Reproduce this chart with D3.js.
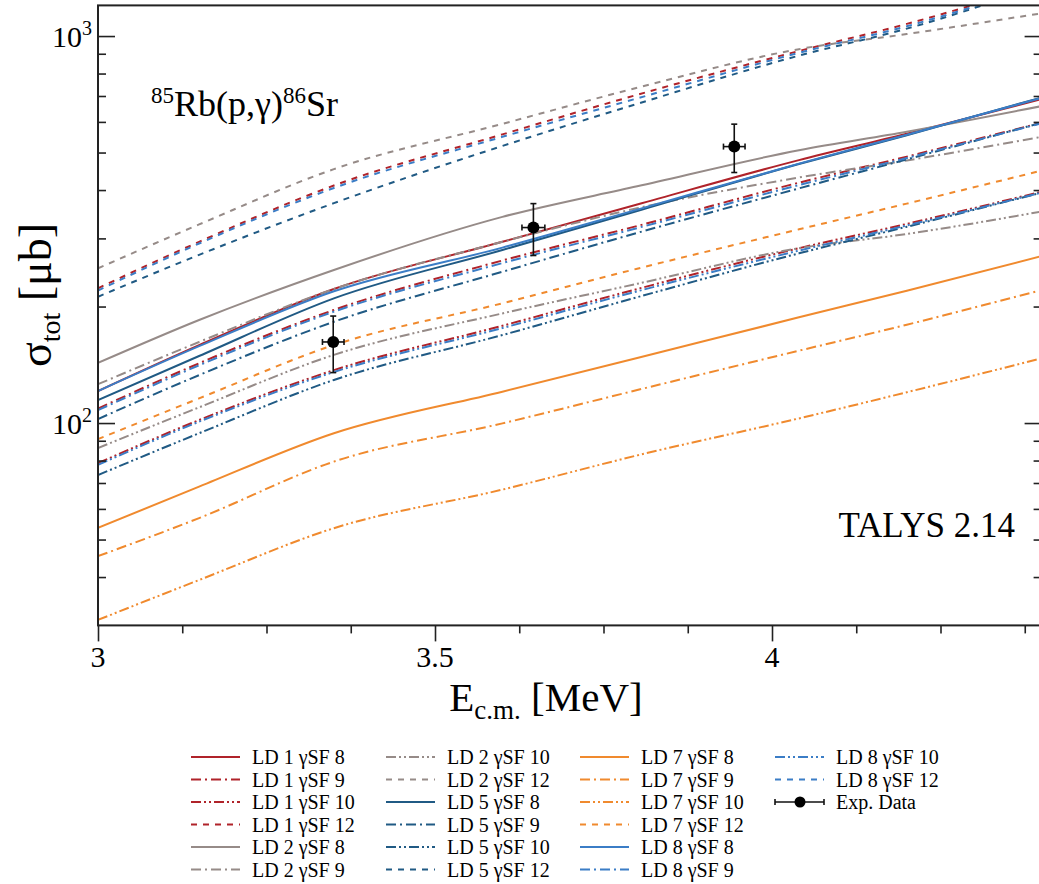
<!DOCTYPE html>
<html>
<head>
<meta charset="UTF-8">
<title>85Rb(p,g)86Sr TALYS</title>
<style>
  body { margin: 0; background: #fff; }
</style>
</head>
<body>
<script src="https://cdn.jsdelivr.net/npm/d3@7"></script>
<script>
const width = 1039,
  height = 884

// centre-of-mass energies (MeV) where curves were read
const energies = [3.0, 3.15, 3.35, 3.6, 3.8, 4.04, 4.2, 4.4]

// cross sections in microbarn, one array per LD / gSF combination
const ld1_sf8 = [121, 159, 222, 294, 367, 478, 559, 687]
const ld1_sf9 = [109, 142.7, 196, 263, 323, 418, 488, 597]
const ld1_sf10 = [78.8, 101.8, 137, 178.4, 222, 283, 327, 396]
const ld1_sf12 = [223, 294, 411, 557, 705, 915, 1075, 1360]

const ld2_sf8 = [143, 184.6, 248.6, 341, 409, 507, 566, 659]
const ld2_sf9 = [126, 162, 222, 294, 359, 431, 477, 549]
const ld2_sf10 = [86.2, 109.8, 150, 192, 229, 283, 308, 352]
const ld2_sf12 = [251, 326, 453, 593, 735, 925, 1012, 1145]

const ld5_sf8 = [114.7, 149, 210, 280, 353, 467, 554, 694]
const ld5_sf9 = [102.4, 133, 182.7, 246, 310, 404, 480, 597]
const ld5_sf10 = [73.4, 94.1, 129.2, 168.8, 211.4, 274.5, 321.5, 394]
const ld5_sf12 = [212, 272, 370, 520, 668, 890, 1045, 1350]

const ld7_sf8 = [53.6, 68.5, 94.1, 120.5, 147.2, 187.6, 219.8, 270]
const ld7_sf9 = [45.3, 56.8, 79.5, 99.8, 121.7, 153.8, 179.5, 220.7]
const ld7_sf10 = [31.0, 39.3, 53.5, 67.3, 82.5, 102.8, 120.1, 147]
const ld7_sf12 = [90.9, 115.8, 159.1, 203.9, 250.5, 316.6, 369, 449]

const ld8_sf8 = [121, 158, 219, 284, 356, 468, 556, 692]
const ld8_sf9 = [108, 141, 194, 259, 319, 412, 484, 595]
const ld8_sf10 = [78, 100.8, 135.5, 176, 219, 279, 324, 394]
const ld8_sf12 = [220, 291, 405, 549, 690, 905, 1060, 1355]

// experimental points
const expE = [3.349, 3.646, 3.944]
const expEErr = [0.016, 0.017, 0.016]
const expSigma = [162, 320, 518]
const expSigmaErr = [27, 49, 74]

const xMajor = [3, 3.5, 4]
const xLabels = ['3', '3.5', '4']

const series = [
  { ld: 1, sf: 8, values: ld1_sf8 }, { ld: 1, sf: 9, values: ld1_sf9 },
  { ld: 1, sf: 10, values: ld1_sf10 }, { ld: 1, sf: 12, values: ld1_sf12 },
  { ld: 2, sf: 8, values: ld2_sf8 }, { ld: 2, sf: 9, values: ld2_sf9 },
  { ld: 2, sf: 10, values: ld2_sf10 }, { ld: 2, sf: 12, values: ld2_sf12 },
  { ld: 5, sf: 8, values: ld5_sf8 }, { ld: 5, sf: 9, values: ld5_sf9 },
  { ld: 5, sf: 10, values: ld5_sf10 }, { ld: 5, sf: 12, values: ld5_sf12 },
  { ld: 7, sf: 8, values: ld7_sf8 }, { ld: 7, sf: 9, values: ld7_sf9 },
  { ld: 7, sf: 10, values: ld7_sf10 }, { ld: 7, sf: 12, values: ld7_sf12 },
  { ld: 8, sf: 8, values: ld8_sf8 }, { ld: 8, sf: 9, values: ld8_sf9 },
  { ld: 8, sf: 10, values: ld8_sf10 }, { ld: 8, sf: 12, values: ld8_sf12 }
]

const ldColor = { 1: '#b0232a', 2: '#968b88', 5: '#205a84', 7: '#f08a2e', 8: '#3b7dc6' }
const sfDash = { 8: null, 9: '10,4,2,4', 10: '10,3,2,3,2,3', 12: '6,6' }

const serif = "'Liberation Serif', 'Times New Roman', Times, 'DejaVu Serif', serif"
const plot = { left: 98, right: 1041.6, top: 5.4, bottom: 625.4 }

const svg = d3.select('body')
  .append('svg')
  .attr('width', width)
  .attr('height', height)
  .attr('font-family', serif)
  .style('font-family', serif)

const x = d3.scaleLinear()
  .domain([3, 4.4])
  .range([plot.left, plot.right])

const y = d3.scaleLog()
  .domain([30, 1200])
  .range([plot.bottom, plot.top])

svg.append('clipPath')
  .attr('id', 'clip')
  .append('rect')
  .attr('x', plot.left)
  .attr('y', plot.top)
  .attr('width', plot.right - plot.left)
  .attr('height', plot.bottom - plot.top)

// curves
const line = d3.line()
  .x((d, i) => x(energies[i]))
  .y(d => y(d))
  .curve(d3.curveMonotoneX)

svg.append('g')
  .attr('clip-path', 'url(#clip)')
  .selectAll('path')
  .data(series)
  .enter()
  .append('path')
  .attr('d', d => line(d.values))
  .attr('fill', 'none')
  .attr('stroke', d => ldColor[d.ld])
  .attr('stroke-width', 2)
  .attr('stroke-dasharray', d => sfDash[d.sf])

// ticks
const yMinor = [40, 50, 60, 70, 80, 90, 200, 300, 400, 500, 600, 700, 800, 900]
const xMinor = d3.range(3, 4.41, 0.125).filter(v => xMajor.indexOf(v) < 0)

const axisColor = '#222'

function ticks(axis, tx, ty) {
  svg.append('g')
    .attr('transform', `translate(${tx},${ty})`)
    .call(axis.tickSizeOuter(0).tickFormat(''))
    .call(g => g.select('.domain').remove())
}
ticks(d3.axisLeft(y).tickValues([100, 1000]).tickSizeInner(-17), plot.left, 0)
ticks(d3.axisLeft(y).tickValues(yMinor).tickSizeInner(-8), plot.left, 0)
ticks(d3.axisRight(y).tickValues([100, 1000]).tickSizeInner(-17), plot.right, 0)
ticks(d3.axisRight(y).tickValues(yMinor).tickSizeInner(-8), plot.right, 0)
ticks(d3.axisBottom(x).tickValues(xMajor).tickSizeInner(16), 0, plot.bottom)
ticks(d3.axisBottom(x).tickValues(xMinor).tickSizeInner(8), 0, plot.bottom)

svg.selectAll('.tick line').attr('stroke', axisColor).attr('stroke-width', 1.6)

// frame
svg.append('rect')
  .attr('x', plot.left)
  .attr('y', plot.top)
  .attr('width', plot.right - plot.left)
  .attr('height', plot.bottom - plot.top)
  .attr('fill', 'none')
  .attr('stroke', axisColor)
  .attr('stroke-width', 2)

// tick labels
svg.selectAll('text.xlab')
  .data(xMajor)
  .enter()
  .append('text')
  .attr('x', d => x(d))
  .attr('y', 667)
  .attr('text-anchor', 'middle')
  .attr('font-size', 30)
  .text((d, i) => xLabels[i])

const ylab = svg.selectAll('text.ylab')
  .data([100, 1000])
  .enter()
  .append('text')
  .attr('x', 92)
  .attr('y', d => y(d) + 11)
  .attr('text-anchor', 'end')
  .attr('font-size', 30)
ylab.append('tspan').text('10')
ylab.append('tspan')
  .attr('font-size', 20)
  .attr('dy', -12)
  .text(d => Math.round(Math.log10(d)))

// axis titles
const xt = svg.append('text')
  .attr('x', 546)
  .attr('y', 711)
  .attr('text-anchor', 'middle')
  .attr('font-size', 41)
xt.append('tspan').text('E')
xt.append('tspan').attr('font-size', 27).attr('dy', 8).text('c.m.')
xt.append('tspan').attr('dy', -8).text(' [MeV]')

const yt = svg.append('text')
  .attr('transform', 'translate(51,295) rotate(-90)')
  .attr('text-anchor', 'middle')
  .attr('font-size', 46)
yt.append('tspan').text('σ')
yt.append('tspan').attr('font-size', 28).attr('dy', 9).text('tot')
yt.append('tspan').attr('dy', -9).text(' [μb]')

// annotations
const title = svg.append('text')
  .attr('x', 151)
  .attr('y', 116)
  .attr('font-size', 36)
title.append('tspan').attr('font-size', 23).attr('dy', -13).text('85')
title.append('tspan').attr('dy', 13).text('Rb(p,γ)')
title.append('tspan').attr('font-size', 23).attr('dy', -13).text('86')
title.append('tspan').attr('dy', 13).text('Sr')

svg.append('text')
  .attr('x', 1015)
  .attr('y', 537)
  .attr('text-anchor', 'end')
  .attr('font-size', 35)
  .text('TALYS 2.14')

// experimental data
const expData = expE.map((e, i) => ({ e: e, de: expEErr[i], s: expSigma[i], ds: expSigmaErr[i] }))
const eg = svg.append('g').attr('stroke', '#111').attr('stroke-width', 1.6)
expData.forEach(d => {
  eg.append('line').attr('x1', x(d.e)).attr('x2', x(d.e)).attr('y1', y(d.s - d.ds)).attr('y2', y(d.s + d.ds))
  eg.append('line').attr('x1', x(d.e) - 3).attr('x2', x(d.e) + 3).attr('y1', y(d.s - d.ds)).attr('y2', y(d.s - d.ds))
  eg.append('line').attr('x1', x(d.e) - 3).attr('x2', x(d.e) + 3).attr('y1', y(d.s + d.ds)).attr('y2', y(d.s + d.ds))
  eg.append('line').attr('x1', x(d.e - d.de)).attr('x2', x(d.e + d.de)).attr('y1', y(d.s)).attr('y2', y(d.s))
  eg.append('line').attr('x1', x(d.e - d.de)).attr('x2', x(d.e - d.de)).attr('y1', y(d.s) - 3).attr('y2', y(d.s) + 3)
  eg.append('line').attr('x1', x(d.e + d.de)).attr('x2', x(d.e + d.de)).attr('y1', y(d.s) - 3).attr('y2', y(d.s) + 3)
})
svg.selectAll('circle.exp')
  .data(expData)
  .enter()
  .append('circle')
  .attr('cx', d => x(d.e))
  .attr('cy', d => y(d.s))
  .attr('r', 6)
  .attr('fill', '#000')

// legend
const colX = [191, 386, 580, 775]
const rowY = 757,
  rowStep = 22.5
const legendItems = series.map(s => ({ label: `LD ${s.ld} γSF ${s.sf}`, ld: s.ld, sf: s.sf }))
legendItems.push({ label: 'Exp. Data', exp: true })

const lg = svg.append('g')
legendItems.forEach((d, i) => {
  const cx = colX[Math.floor(i / 6)]
  const cy = rowY + (i % 6) * rowStep
  if (d.exp) {
    lg.append('line').attr('x1', cx).attr('x2', cx + 49).attr('y1', cy).attr('y2', cy)
      .attr('stroke', '#111').attr('stroke-width', 1.6)
    lg.append('line').attr('x1', cx).attr('x2', cx).attr('y1', cy - 3).attr('y2', cy + 3)
      .attr('stroke', '#111').attr('stroke-width', 1.6)
    lg.append('line').attr('x1', cx + 49).attr('x2', cx + 49).attr('y1', cy - 3).attr('y2', cy + 3)
      .attr('stroke', '#111').attr('stroke-width', 1.6)
    lg.append('circle').attr('cx', cx + 25).attr('cy', cy).attr('r', 5.5).attr('fill', '#000')
  } else {
    lg.append('line').attr('x1', cx).attr('x2', cx + 49).attr('y1', cy).attr('y2', cy)
      .attr('stroke', ldColor[d.ld]).attr('stroke-width', 2)
      .attr('stroke-dasharray', sfDash[d.sf])
  }
  lg.append('text')
    .attr('x', cx + 61)
    .attr('y', cy + 7)
    .attr('font-size', 20)
    .text(d.label)
})
</script>
</body>
</html>
